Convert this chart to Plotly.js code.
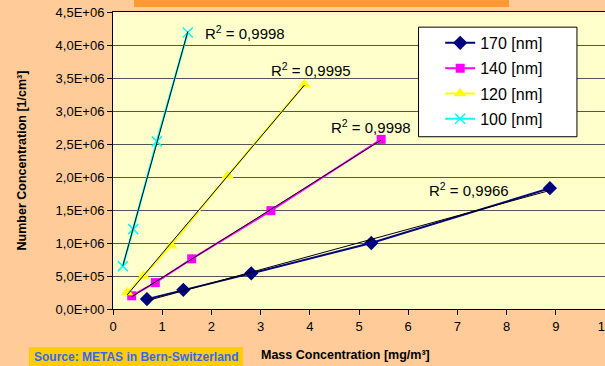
<!DOCTYPE html>
<html>
<head>
<meta charset="utf-8">
<script src="https://cdn.plot.ly/plotly-3.0.1.min.js"></script>
<style>html,body{margin:0;padding:0;background:#FFCC99;}#chart{width:605px;height:366px;}</style>
</head>
<body>
<div id="chart"></div>
<script>
// ---- data ----
const seriesNames = ["170 [nm]", "140 [nm]", "120 [nm]", "100 [nm]"];
const x170 = [0.69, 1.43, 2.81, 5.25, 8.88];
const y170 = [0.15e6, 0.29e6, 0.54e6, 1.00e6, 1.83e6];
const x140 = [0.38, 0.86, 1.60, 3.21, 5.45];
const y140 = [0.20e6, 0.40e6, 0.76e6, 1.49e6, 2.57e6];
const x120 = [0.29, 0.62, 1.18, 2.33, 3.89];
const y120 = [0.25e6, 0.50e6, 0.96e6, 2.02e6, 3.40e6];
const x100 = [0.20, 0.41, 0.89, 1.52];
const y100 = [0.65e6, 1.21e6, 2.54e6, 4.19e6];
const r2Labels = ["R<sup>2</sup> = 0,9966", "R<sup>2</sup> = 0,9998", "R<sup>2</sup> = 0,9995", "R<sup>2</sup> = 0,9998"];
const r2LabelX = [6.38, 4.40, 3.18, 1.82];
const r2LabelY = [1.81e6, 2.76e6, 3.63e6, 4.19e6];
const yTickVals = [0, 0.5e6, 1.0e6, 1.5e6, 2.0e6, 2.5e6, 3.0e6, 3.5e6, 4.0e6, 4.5e6];
const yTickText = ["0,0E+00", "5,0E+05", "1,0E+06", "1,5E+06", "2,0E+06", "2,5E+06", "3,0E+06", "3,5E+06", "4,0E+06", "4,5E+06"];
const xTickVals = [0, 1, 2, 3, 4, 5, 6, 7, 8, 9, 10];

const xs = [x170, x140, x120, x100];
const ys = [y170, y140, y120, y100];
const colors = ["#000080", "#FF00FF", "#FFFF00", "#00FFFF"];
const symbols = ["diamond", "square", "triangle-up", "x-thin-open"];
const msizes = [11, 9, 11, 10];
const FONT = "Arial, Liberation Sans, sans-serif";

function fit(x, y) {
  const n = x.length;
  let sx = 0, sy = 0, sxx = 0, sxy = 0;
  for (let i = 0; i < n; i++) { sx += x[i]; sy += y[i]; sxx += x[i]*x[i]; sxy += x[i]*y[i]; }
  const b = (n*sxy - sx*sy) / (n*sxx - sx*sx);
  const a = (sy - b*sx) / n;
  const x0 = Math.min(...x), x1 = Math.max(...x);
  return {x: [x0, x1], y: [a + b*x0, a + b*x1]};
}

const traces = [];
for (let i = 0; i < 4; i++) {
  traces.push({
    x: xs[i], y: ys[i], name: seriesNames[i], type: "scatter", mode: "lines+markers",
    legendgroup: "g" + i,
    line: {color: colors[i], width: 2},
    marker: {color: colors[i], symbol: symbols[i], size: msizes[i],
             line: {color: colors[i], width: symbols[i] === "x-thin-open" ? 1.5 : 0}}
  });
}
for (let i = 0; i < 4; i++) {
  const f = fit(xs[i], ys[i]);
  traces.push({x: f.x, y: f.y, type: "scatter", mode: "lines", showlegend: false,
    hoverinfo: "skip", line: {color: "#000000", width: 1}});
}

const annotations = [];
for (let i = 0; i < 4; i++) {
  annotations.push({x: r2LabelX[i], y: r2LabelY[i], xref: "x", yref: "y", text: r2Labels[i],
    showarrow: false, xanchor: "left", yanchor: "middle",
    font: {family: FONT, size: 15, color: "#000"}});
}
annotations.push({xref: "paper", yref: "paper", x: -0.185, y: 0.5, textangle: -90,
  text: "<b>Number Concentration [1/cm³]</b>", showarrow: false, xanchor: "center", yanchor: "middle",
  font: {family: FONT, size: 12.5, color: "#000"}});
annotations.push({xref: "paper", yref: "paper", x: 0.473, y: -0.155,
  text: "<b>Mass Concentration [mg/m³]</b>", showarrow: false, xanchor: "center", yanchor: "middle",
  font: {family: FONT, size: 12.5, color: "#000"}});
annotations.push({xref: "paper", yref: "paper", x: 0.0467, y: -0.163,
  text: "<b>Source: METAS in Bern-Switzerland</b>", showarrow: false, xanchor: "center", yanchor: "middle",
  font: {family: FONT, size: 12, color: "#3366FF"}});

const layout = {
  width: 605, height: 366,
  margin: {l: 113, r: 0, t: 12, b: 57},
  paper_bgcolor: "#FFCC99", plot_bgcolor: "#FFFFCC",
  showlegend: true,
  legend: {x: 0.665, y: 0.953, xanchor: "left", yanchor: "top", bgcolor: "rgba(0,0,0,0)",
    borderwidth: 0, tracegroupgap: 1.5,
    font: {family: FONT, size: 16, color: "#000"}},
  xaxis: {range: [0, 10], tickvals: xTickVals, ticks: "outside", ticklen: 5, tickcolor: "#000",
    ticklabeloverflow: "allow",
    showgrid: false, zeroline: false, showline: true, linecolor: "#000", linewidth: 1, mirror: true,
    tickfont: {family: FONT, size: 13, color: "#000"}},
  yaxis: {range: [0, 4.5e6], tickvals: yTickVals, ticktext: yTickText, ticks: "outside", ticklen: 5,
    tickcolor: "#000", showgrid: true, gridcolor: "#555555", gridwidth: 1, zeroline: false,
    showline: true, linecolor: "#000", linewidth: 1, mirror: true,
    tickfont: {family: FONT, size: 13, color: "#000"}},
  annotations: annotations,
  shapes: [
    {type: "rect", xref: "paper", yref: "paper", x0: 0.621, x1: 0.943, y0: 0.58, y1: 0.949,
      fillcolor: "#FFFFFF", line: {color: "#000", width: 1}, layer: "above"},
    {type: "rect", xref: "paper", yref: "paper", x0: 0.0427, x1: 0.805, y0: 1.0168, y1: 1.05,
      fillcolor: "#FF9933", line: {width: 0}},
    {type: "rect", xref: "paper", yref: "paper", x0: -0.1707, x1: 0.264, y0: -0.192, y1: -0.128,
      fillcolor: "#FFCC00", line: {width: 0}}
  ]
};

Plotly.newPlot("chart", traces, layout, {displayModeBar: false, staticPlot: true});
</script>
</body>
</html>
